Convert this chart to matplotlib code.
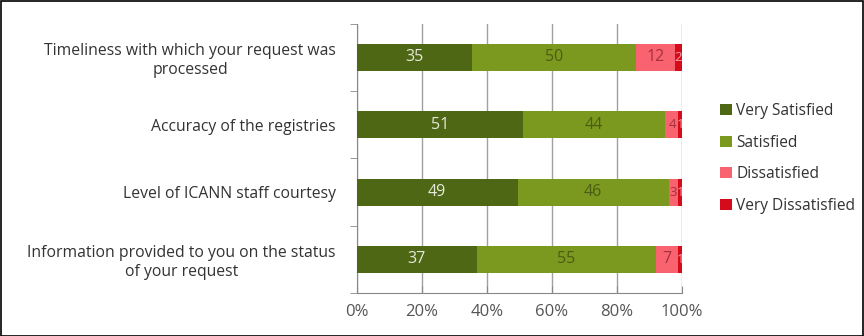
import matplotlib
matplotlib.use("Agg")
import matplotlib.pyplot as plt
import numpy as np
from matplotlib.patches import Rectangle

plt.rcParams["font.family"] = ["Open Sans", "DejaVu Sans"]

questions = [
    "Timeliness with which your request was\nprocessed",
    "Accuracy of the registries",
    "Level of ICANN staff courtesy",
    "Information provided to you on the status\nof your request",
]
very_satisfied = [35, 51, 49, 37]
satisfied = [50, 44, 46, 55]
dissatisfied = [12, 4, 3, 7]
very_dissatisfied = [2, 1, 1, 1]

series_names = ["Very Satisfied", "Satisfied", "Dissatisfied", "Very Dissatisfied"]
colors = ["#4e6714", "#7b991e", "#f8636f", "#d50b1b"]
text_colors = ["#e6e9dc", "#4b5e14", "#a3313c", "#f7a0a8"]

data = np.array([very_satisfied, satisfied, dissatisfied, very_dissatisfied], dtype=float)
totals = data.sum(axis=0)
shares = data / totals * 100  # 100% stacked

fig = plt.figure(figsize=(8.64, 3.36), dpi=100)
ax = fig.add_axes([0.413, 0.128, 0.376, 0.801])

y = np.arange(len(questions))[::-1]
left = np.zeros(len(questions))
for vals, raw, name, col, tcol in zip(shares, data, series_names, colors, text_colors):
    bars = ax.barh(y, vals, left=left, height=0.4, color=col, label=name, zorder=3)
    for b, v in zip(bars, raw):
        # tiny segments get a slightly smaller label so neighbours don't collide
        fs = 11.5 if v >= 5 else 9.5
        ax.text(b.get_x() + b.get_width() / 2, b.get_y() + b.get_height() / 2, f"{v:g}",
                ha="center", va="center", color=tcol, fontsize=fs, zorder=4)
    left += vals

ax.set_xlim(0, 100)
ax.set_ylim(-0.5, len(questions) - 0.5)
ax.set_xticks(np.arange(0, 101, 20))
ax.set_xticklabels([f"{t}%" for t in range(0, 101, 20)], color="#555555", fontsize=12)
ax.set_yticks(y)
ax.set_yticklabels(questions, fontsize=11.3, color="#333333")
ax.set_yticks(np.arange(-0.5, len(questions), 1), minor=True)
ax.tick_params(axis="y", which="major", length=0, pad=15)
ax.tick_params(axis="y", which="minor", length=5, color="#888888", direction="out")
ax.tick_params(axis="x", length=5, color="#888888", direction="in", pad=8)
for lbl in ax.get_yticklabels():
    lbl.set_multialignment("center")
ax.grid(axis="x", color="#a0a0a0", linewidth=1, zorder=0)
for s in ["top", "right"]:
    ax.spines[s].set_visible(False)
for s in ["left", "bottom"]:
    ax.spines[s].set_color("#888888")

ax.legend(loc="center left", bbox_to_anchor=(1.075, 0.5), frameon=False, fontsize=11.2,
          handlelength=0.75, handleheight=0.75, handletextpad=0.3, labelspacing=1.0,
          labelcolor="#333333")

fig.patches.append(Rectangle((0.001, 0.001), 0.998, 0.997, transform=fig.transFigure,
                             fill=False, edgecolor="black", linewidth=1.2))

fig.savefig("out.png", dpi=100)
